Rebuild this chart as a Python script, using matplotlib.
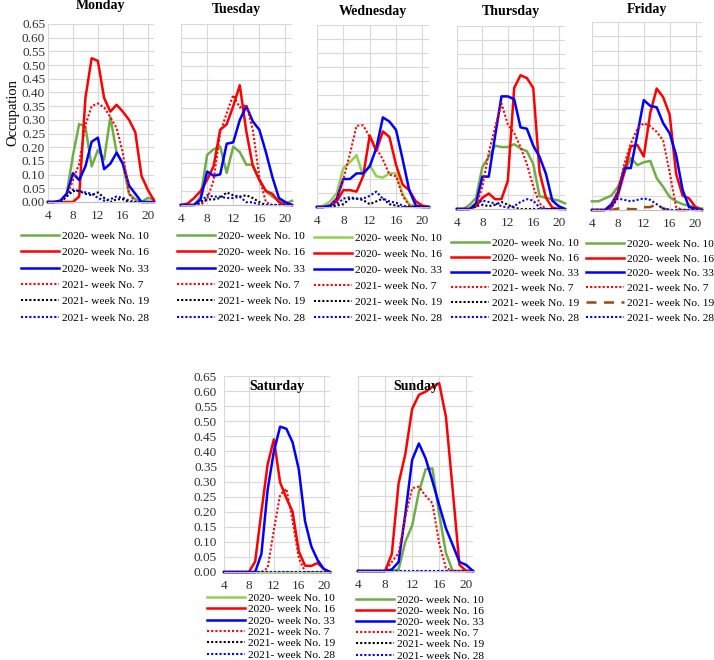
import matplotlib
matplotlib.use('Agg')
import matplotlib.pyplot as plt

plt.rcParams['font.family'] = ['Liberation Serif', 'DejaVu Serif']

hours = list(range(4, 22))
x_ticks = [4, 8, 12, 16, 20]
y_ticks = [i * 0.05 for i in range(14)]
labels = ['2020- week No. 10', '2020- week No. 16', '2020- week No. 33',
          '2021- week No. 7', '2021- week No. 19', '2021- week No. 28']

# values, hours 4..21
mon_w10 = [0, 0, 0.005, 0.03, 0.17, 0.285, 0.275, 0.13, 0.19, 0.155, 0.31, 0.18, 0.14, 0.03, 0.01, 0.0, 0.015, 0.01]
mon_w16 = [0, 0, 0, 0, 0, 0.02, 0.38, 0.525, 0.515, 0.38, 0.33, 0.355, 0.33, 0.3, 0.255, 0.095, 0.045, 0.005]
mon_w33 = [0, 0, 0.005, 0.03, 0.105, 0.08, 0.13, 0.22, 0.235, 0.12, 0.14, 0.18, 0.14, 0.06, 0.03, 0, 0, 0]
mon_y7 = [0, 0, 0, 0.02, 0.08, 0.14, 0.28, 0.35, 0.36, 0.345, 0.31, 0.27, 0.18, 0.03, 0, 0, 0, 0]
mon_y19 = [0, 0, 0, 0.02, 0.04, 0.04, 0.03, 0.025, 0.035, 0.015, 0, 0.01, 0.01, 0, 0, 0, 0, 0]
mon_y28 = [0, 0, 0, 0.03, 0.045, 0.04, 0.035, 0.03, 0.015, 0.005, 0.01, 0.02, 0.015, 0.005, 0, 0, 0, 0]

tue_w10 = [0, 0, 0, 0.03, 0.18, 0.2, 0.21, 0.115, 0.21, 0.19, 0.145, 0.145, 0.09, 0.05, 0.03, 0.015, 0.005, 0.015]
tue_w16 = [0, 0.005, 0.025, 0.05, 0.09, 0.14, 0.27, 0.29, 0.355, 0.43, 0.265, 0.14, 0.09, 0.05, 0.04, 0.01, 0, 0]
tue_w33 = [0, 0, 0, 0.02, 0.12, 0.105, 0.11, 0.22, 0.225, 0.305, 0.355, 0.3, 0.27, 0.19, 0.1, 0.025, 0.01, 0]
tue_y7 = [0, 0, 0, 0, 0.02, 0.09, 0.26, 0.33, 0.395, 0.35, 0.36, 0.27, 0.1, 0.01, 0, 0, 0, 0]
tue_y19 = [0, 0, 0, 0.01, 0.02, 0.02, 0.025, 0.045, 0.035, 0.03, 0.035, 0.025, 0.01, 0, 0, 0, 0, 0]
tue_y28 = [0, 0, 0, 0.01, 0.035, 0.03, 0.03, 0.025, 0.025, 0.03, 0.01, 0.01, 0, 0, 0, 0, 0, 0]

wed_w10 = [0, 0.005, 0.02, 0.05, 0.14, 0.16, 0.185, 0.11, 0.15, 0.11, 0.105, 0.12, 0.12, 0.045, 0.01, 0, 0, 0]
wed_w16 = [0, 0, 0.005, 0.02, 0.06, 0.06, 0.055, 0.11, 0.255, 0.2, 0.27, 0.25, 0.15, 0.08, 0.06, 0.02, 0.005, 0]
wed_w33 = [0, 0, 0.005, 0.03, 0.1, 0.1, 0.12, 0.12, 0.145, 0.21, 0.32, 0.305, 0.275, 0.17, 0.06, 0.005, 0, 0]
wed_y7 = [0, 0, 0, 0.03, 0.1, 0.19, 0.29, 0.292, 0.25, 0.21, 0.17, 0.115, 0.11, 0.04, 0.005, 0, 0, 0]
wed_y19 = [0, 0, 0, 0.005, 0.01, 0.03, 0.03, 0.025, 0.01, 0.02, 0.03, 0.01, 0.005, 0, 0, 0, 0, 0]
wed_y28 = [0, 0, 0, 0.01, 0.03, 0.035, 0.03, 0.03, 0.04, 0.055, 0.03, 0.02, 0.015, 0.005, 0, 0, 0, 0]

thu_w10 = [0, 0, 0.015, 0.04, 0.15, 0.185, 0.225, 0.22, 0.22, 0.23, 0.215, 0.205, 0.16, 0.045, 0.04, 0.035, 0.03, 0.02]
thu_w16 = [0, 0, 0, 0.01, 0.04, 0.055, 0.035, 0.035, 0.1, 0.43, 0.475, 0.465, 0.43, 0.13, 0.04, 0.005, 0, 0]
thu_w33 = [0, 0, 0, 0.02, 0.115, 0.115, 0.26, 0.4, 0.4, 0.39, 0.29, 0.285, 0.225, 0.185, 0.125, 0.03, 0.01, 0]
thu_y7 = [0, 0, 0, 0.01, 0.08, 0.2, 0.29, 0.375, 0.3, 0.27, 0.22, 0.16, 0.08, 0.02, 0, 0, 0, 0]
thu_y19 = [0, 0, 0, 0.01, 0.015, 0.01, 0.015, 0.025, 0.015, 0.005, 0, 0, 0, 0, 0, 0, 0, 0]
thu_y28 = [0, 0, 0, 0.02, 0.03, 0.025, 0.02, 0.01, 0.005, 0.01, 0.025, 0.035, 0.03, 0.005, 0, 0, 0, 0]

fri_w10 = [0.03, 0.03, 0.04, 0.05, 0.08, 0.13, 0.18, 0.155, 0.165, 0.17, 0.11, 0.08, 0.045, 0.03, 0.02, 0.015, 0.01, 0.005]
fri_w16 = [0, 0, 0, 0.01, 0.05, 0.13, 0.22, 0.225, 0.185, 0.335, 0.42, 0.39, 0.33, 0.125, 0.05, 0.04, 0.01, 0]
fri_w33 = [0, 0, 0, 0.02, 0.06, 0.145, 0.145, 0.26, 0.38, 0.36, 0.355, 0.3, 0.265, 0.19, 0.07, 0.01, 0.005, 0]
fri_y7 = [0, 0, 0, 0.01, 0.07, 0.16, 0.23, 0.28, 0.3, 0.29, 0.27, 0.24, 0.13, 0.01, 0, 0, 0, 0]
fri_y19 = [0, 0, 0, 0, 0.005, 0.005, 0.003, 0.003, 0.01, 0.01, 0.02, 0.005, 0, 0, 0, 0, 0, 0]
fri_y28 = [0, 0, 0, 0.01, 0.04, 0.035, 0.03, 0.035, 0.04, 0.035, 0.02, 0.005, 0, 0, 0, 0, 0, 0]

sat_w10 = [0] * 18
sat_w16 = [0, 0, 0, 0, 0, 0.035, 0.2, 0.357, 0.44, 0.297, 0.245, 0.2, 0.068, 0.021, 0.02, 0.03, 0.01, 0]
sat_w33 = [0, 0, 0, 0, 0, 0, 0.06, 0.273, 0.4, 0.482, 0.475, 0.43, 0.34, 0.168, 0.085, 0.04, 0.01, 0]
sat_y7 = [0, 0, 0, 0, 0, 0, 0, 0.013, 0.14, 0.256, 0.276, 0.17, 0.046, 0, 0, 0, 0, 0]
sat_y19 = [0] * 18
sat_y28 = [0] * 18

sun_w10 = [0, 0, 0, 0, 0, 0, 0.005, 0.098, 0.151, 0.264, 0.339, 0.342, 0.19, 0.06, 0, 0, 0, 0]
sun_w16 = [0, 0, 0, 0, 0, 0.057, 0.292, 0.39, 0.54, 0.587, 0.598, 0.614, 0.626, 0.514, 0.27, 0.02, 0, 0]
sun_w33 = [0, 0, 0, 0, 0, 0.005, 0.03, 0.19, 0.37, 0.425, 0.375, 0.3, 0.22, 0.142, 0.087, 0.03, 0.02, 0]
sun_y7 = [0, 0, 0, 0, 0, 0.03, 0.06, 0.18, 0.276, 0.281, 0.25, 0.226, 0.092, 0.01, 0, 0, 0, 0]
sun_y19 = [0] * 18
sun_y28 = [0] * 18

GREEN = '#70AD47'
LIGHT_GREEN = '#92D050'
DOT = (0, (1, 1))


def styles(green, brown=False):
    y19 = ('#9C4A12', (0, (4, 3)), 1.8) if brown else ('black', DOT, 1.5)
    return [(green, '-', 1.8), ('#FF0000', '-', 1.8), ('#0000FF', '-', 1.8),
            ('#FF0000', DOT, 1.5), y19, ('#0000FF', DOT, 1.5)]


W, H = 714, 660
fig = plt.figure(figsize=(W / 100, H / 100), dpi=100)


def px_axes(l, t, r, b):
    return fig.add_axes([l / W, 1 - b / H, (r - l) / W, (b - t) / H])


# (name, box, series, green, brown, ytick labels, legend left, legend top, row spacing, title y)
days = [
    ('Monday', (48, 24, 154, 202), [mon_w10, mon_w16, mon_w33, mon_y7, mon_y19, mon_y28], GREEN, False, True, 21, 231, 0.56, 6),
    ('Tuesday', (181, 24, 292, 205), [tue_w10, tue_w16, tue_w33, tue_y7, tue_y19, tue_y28], GREEN, False, False, 177, 231, 0.56, 10),
    ('Wednesday', (317, 25, 429, 207), [wed_w10, wed_w16, wed_w33, wed_y7, wed_y19, wed_y28], LIGHT_GREEN, False, False, 314, 233, 0.53, 11),
    ('Thursday', (457, 26, 565, 209), [thu_w10, thu_w16, thu_w33, thu_y7, thu_y19, thu_y28], GREEN, False, False, 451, 238, 0.44, 12),
    ('Friday', (592, 22, 702, 210), [fri_w10, fri_w16, fri_w33, fri_y7, fri_y19, fri_y28], GREEN, True, False, 586, 239, 0.42, 10),
    ('Saturday', (224, 376, 330, 572), [sat_w10, sat_w16, sat_w33, sat_y7, sat_y19, sat_y28], LIGHT_GREEN, False, True, 207, 593, 0.12, 387),
    ('Sunday', (358, 376, 473, 571), [sun_w10, sun_w16, sun_w33, sun_y7, sun_y19, sun_y28], GREEN, False, False, 356, 595, 0.1, 387),
]

for name, box, series, green, brown, show_y, lx, ly, spacing, ty in days:
    ax = px_axes(*box)
    handles = []
    for vals, (c, ls, lw) in zip(series, styles(green, brown)):
        h, = ax.plot(hours, vals, color=c, linestyle=ls, linewidth=lw, clip_on=False)
        handles.append(h)
    ax.set_xlim(4, 21)
    ax.set_ylim(0, 0.65)
    ax.set_xticks(x_ticks)
    ax.set_yticks(y_ticks)
    ax.grid(True, color='#D9D9D9', linewidth=0.8)
    ax.set_axisbelow(True)
    for s in ['top', 'right', 'left']:
        ax.spines[s].set_visible(False)
    ax.spines['bottom'].set_color('#BFBFBF')
    ax.tick_params(length=0, labelsize=9.5, colors='#303030')
    ax.tick_params(axis='x', pad=6)
    ax.tick_params(axis='y', pad=2 if name == 'Monday' else 5)
    if show_y:
        ax.set_yticklabels(['%.2f' % v for v in y_ticks])
    else:
        ax.set_yticklabels([])
    if name == 'Monday':
        ax.set_ylabel('Occupation', fontsize=10.5, labelpad=2)
    cx = (box[0] + box[2]) / 2
    fig.text(cx / W, 1 - ty / H, name, ha='center', va='center',
             fontsize=10, fontweight='bold')
    ax.legend(handles, labels, loc='upper left', bbox_to_anchor=(lx / W, 1 - ly / H),
              bbox_transform=fig.transFigure, frameon=False, fontsize=8.2,
              handlelength=3.3, handletextpad=0.3, labelspacing=spacing,
              borderpad=0, borderaxespad=0)

fig.savefig('out.png', dpi=100)
